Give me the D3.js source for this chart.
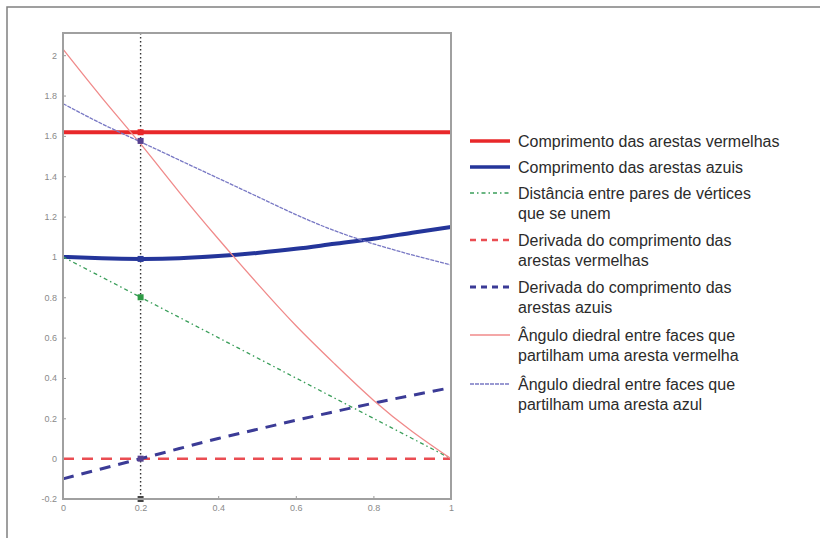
<!DOCTYPE html>
<html>
<head>
<meta charset="utf-8">
<script src="https://cdn.jsdelivr.net/npm/d3@7"></script>
<style>
  body { margin: 0; background: #fff; }
  svg { display: block; font-family: "Liberation Sans", Arial, sans-serif; }
</style>
</head>
<body>
<div id="chart"></div>
<script>
const width = 820;
const height = 538;

// parameter values along the x axis
const tValues = [0, 0.1, 0.2, 0.3, 0.4, 0.5, 0.6, 0.7, 0.8, 0.9, 1];

// series
const redLength = [1.618, 1.618, 1.618, 1.618, 1.618, 1.618, 1.618, 1.618, 1.618, 1.618, 1.618];
const blueLength = [1.0, 0.993, 0.99, 0.993, 1.004, 1.02, 1.04, 1.065, 1.09, 1.12, 1.148];
const vertexDistance = [1.0, 0.9, 0.8, 0.7, 0.6, 0.5, 0.4, 0.3, 0.2, 0.1, 0.0];
const redDerivative = [0, 0, 0, 0, 0, 0, 0, 0, 0, 0, 0];
const blueDerivative = [-0.1, -0.05, 0.0, 0.05, 0.1, 0.145, 0.19, 0.233, 0.275, 0.314, 0.352];
const redDihedral = [2.03, 1.79, 1.56, 1.32, 1.09, 0.87, 0.66, 0.47, 0.29, 0.135, 0.0];
const blueDihedral = [1.76, 1.66, 1.57, 1.48, 1.39, 1.30, 1.21, 1.13, 1.065, 1.01, 0.96];

// highlighted points on the vertical line at t = 0.2
const markerT = 0.2;
const markerValues = [1.618, 1.575, 0.99, 0.8, 0.0, -0.2];
const markerColors = ["#e8282a", "#55408f", "#2a3a9a", "#2e9b45", "#55408f", "#444"];

const xTicks = [0, 0.2, 0.4, 0.6, 0.8, 1];
const yTicks = [-0.2, 0, 0.2, 0.4, 0.6, 0.8, 1, 1.2, 1.4, 1.6, 1.8, 2];

const series = [
    { name: ["Comprimento das arestas vermelhas"], values: redLength, color: "#e8282a", width: 4, dash: null },
    { name: ["Comprimento das arestas azuis"], values: blueLength, color: "#24359a", width: 4, dash: null },
    { name: ["Distância entre pares de vértices", "que se unem"], values: vertexDistance, color: "#3a9e5a", width: 1.3, dash: "4,3,1.5,3" },
    { name: ["Derivada do comprimento das", "arestas vermelhas"], values: redDerivative, color: "#ea4d52", width: 2.5, dash: "11,8" },
    { name: ["Derivada do comprimento das", "arestas azuis"], values: blueDerivative, color: "#3b3b96", width: 3, dash: "11,8" },
    { name: ["Ângulo diedral entre faces que", "partilham uma aresta vermelha"], values: redDihedral, color: "#f08a8a", width: 1.3, dash: null },
    { name: ["Ângulo diedral entre faces que", "partilham uma aresta azul"], values: blueDihedral, color: "#7878c4", width: 1.3, dash: "4,1" }
];

const svg = d3.select("#chart")
    .append("svg")
    .attr("width", width)
    .attr("height", height);

svg.append("rect")
    .attr("width", width)
    .attr("height", height)
    .attr("fill", "#fff");

// outer figure frame (cut by the right and bottom edges)
svg.append("rect")
    .attr("x", 7)
    .attr("y", 7)
    .attr("width", 900)
    .attr("height", 900)
    .attr("fill", "none")
    .attr("stroke", "#808080")
    .attr("stroke-width", 1.5);

const x = d3.scaleLinear().domain([0, 1]).range([63, 451]);
const y = d3.scaleLinear().domain([-0.2, 2.11]).range([499, 33]);

// axes
const xAxis = d3.axisBottom(x)
    .tickValues(xTicks)
    .tickSize(-3)
    .tickPadding(6)
    .tickFormat(d3.format("~g"));

const yAxis = d3.axisLeft(y)
    .tickValues(yTicks)
    .tickSize(-3)
    .tickPadding(6)
    .tickFormat((d) => d3.format("~g")(d).replace("−", "-"));

const gx = svg.append("g")
    .attr("transform", `translate(0, ${y(-0.2)})`)
    .call(xAxis);
const gy = svg.append("g")
    .attr("transform", `translate(${x(0)}, 0)`)
    .call(yAxis);

[gx, gy].forEach((g) => {
    g.select(".domain").remove();
    g.selectAll(".tick line").attr("stroke", "#999").attr("stroke-width", 1);
    g.selectAll(".tick text")
        .attr("fill", "#8a8a8a")
        .style("font-size", "9px");
});

// vertical dotted marker line
svg.append("line")
    .attr("x1", x(markerT))
    .attr("x2", x(markerT))
    .attr("y1", y.range()[1])
    .attr("y2", y.range()[0])
    .attr("stroke", "#333")
    .attr("stroke-width", 1.4)
    .attr("stroke-dasharray", "1.5,2.5");

const line = d3.line()
    .x((d, i) => x(tValues[i]))
    .y((d) => y(d))
    .curve(d3.curveNatural);

svg.append("g")
    .selectAll("path")
    .data(series)
    .join("path")
    .attr("d", (d) => line(d.values))
    .attr("fill", "none")
    .attr("stroke", (d) => d.color)
    .attr("stroke-width", (d) => d.width)
    .attr("stroke-dasharray", (d) => d.dash);

// markers on the dotted line
svg.append("g")
    .selectAll("rect")
    .data(markerValues)
    .join("rect")
    .attr("x", x(markerT) - 3)
    .attr("y", (d) => y(d) - 3)
    .attr("width", 6)
    .attr("height", 6)
    .attr("fill", (d, i) => markerColors[i]);

// axes box
svg.append("rect")
    .attr("x", x(0))
    .attr("y", y.range()[1])
    .attr("width", x(1) - x(0))
    .attr("height", y.range()[0] - y.range()[1])
    .attr("fill", "none")
    .attr("stroke", "#a0a0a0")
    .attr("stroke-width", 2);

// legend
const legendRows = [141, 167, 193, 240, 287, 335, 384];
const legend = svg.append("g");

series.forEach((s, i) => {
    const row = legend.append("g").attr("transform", `translate(0, ${legendRows[i]})`);
    row.append("line")
        .attr("x1", 470)
        .attr("x2", 510)
        .attr("y1", 0)
        .attr("y2", 0)
        .attr("stroke", s.color)
        .attr("stroke-width", Math.min(s.width, 3.5))
        .attr("stroke-dasharray", s.dash ? (s.dash === "11,8" ? "6,5" : s.dash) : null);
    row.append("text")
        .attr("x", 518)
        .attr("y", 0)
        .attr("fill", "#2b2b2b")
        .style("font-size", "16px")
        .selectAll("tspan")
        .data(s.name)
        .join("tspan")
        .attr("x", 518)
        .attr("dy", (d, j) => j === 0 ? "0.35em" : "20px")
        .text((d) => d);
});
</script>
</body>
</html>
